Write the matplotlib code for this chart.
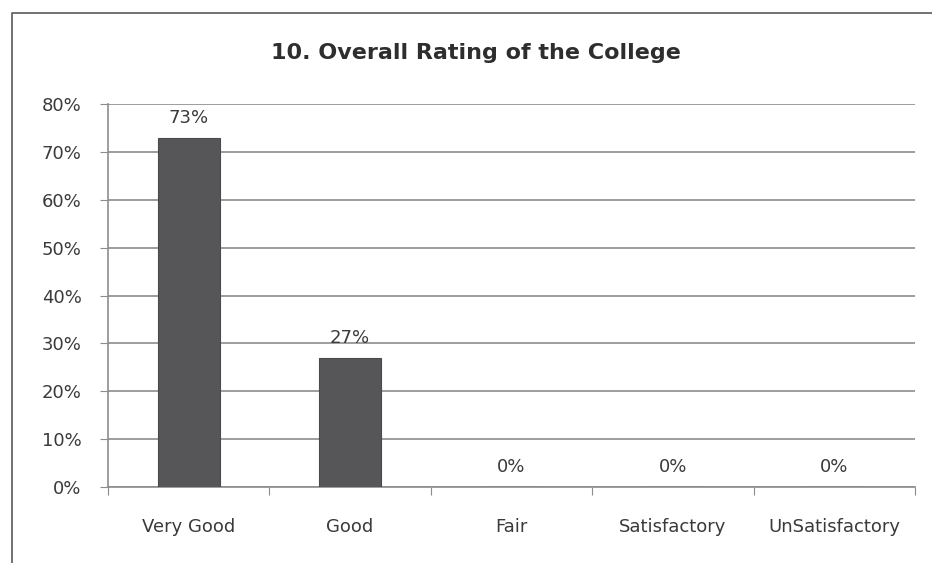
import matplotlib.pyplot as plt
from matplotlib.lines import Line2D

categories = ["Very Good", "Good", "Fair", "Satisfactory", "UnSatisfactory"]
ratings = [73, 27, 0, 0, 0]
y_ticks = [0, 10, 20, 30, 40, 50, 60, 70, 80]

plt.rcParams['font.family'] = ['DejaVu Sans']
text_col = '#3a3a3a'
grid_col = '#8c8c8c'

fig = plt.figure(figsize=(9.32, 5.63), dpi=100)
ax = fig.add_axes([0.1159, 0.135, 0.8659, 0.68])

# chart frame (scan shows only left and top edges)
fx, fy = 12 / 932, 1 - 13 / 563
fig.lines.append(Line2D([fx, fx, 1.0], [0.0, fy, fy], transform=fig.transFigure,
                        color='#666666', linewidth=1.3))

x = range(len(categories))
ax.bar(x, ratings, width=0.385, color='#565659', edgecolor='#4a4a4d', linewidth=0.8, zorder=3)

for i, r in enumerate(ratings):
    ax.annotate(f"{r}%", (i, r), xytext=(0, 8), textcoords='offset points',
                ha='center', va='bottom', fontsize=13, color=text_col)

ax.set_xlim(-0.5, len(categories) - 0.5)
ax.set_ylim(0, 80)
ax.set_yticks(y_ticks)
ax.set_yticklabels([f"{t}%" for t in y_ticks], fontsize=13, color=text_col)
ax.yaxis.grid(True, color=grid_col, linewidth=1.2, zorder=0)

# category boundaries get tick marks, labels sit at the centres
ax.set_xticks([i - 0.5 for i in range(len(categories) + 1)])
ax.set_xticklabels([])
ax.set_xticks(list(x), minor=True)
ax.set_xticklabels(categories, minor=True, fontsize=13, color=text_col)
ax.tick_params(axis='x', which='major', length=6, color=grid_col, direction='out')
ax.tick_params(axis='x', which='minor', length=0, pad=22)
ax.tick_params(axis='y', length=6, color=grid_col, pad=13)

for side in ['top', 'right']:
    ax.spines[side].set_visible(False)
for side in ['left', 'bottom']:
    ax.spines[side].set_color(grid_col)
    ax.spines[side].set_linewidth(1.2)

fig.text(0.511, 0.905, "10. Overall Rating of the College", ha='center', va='center',
         fontsize=16, fontweight='bold', color='#2e2e2e')

fig.savefig("out.png", dpi=100)
